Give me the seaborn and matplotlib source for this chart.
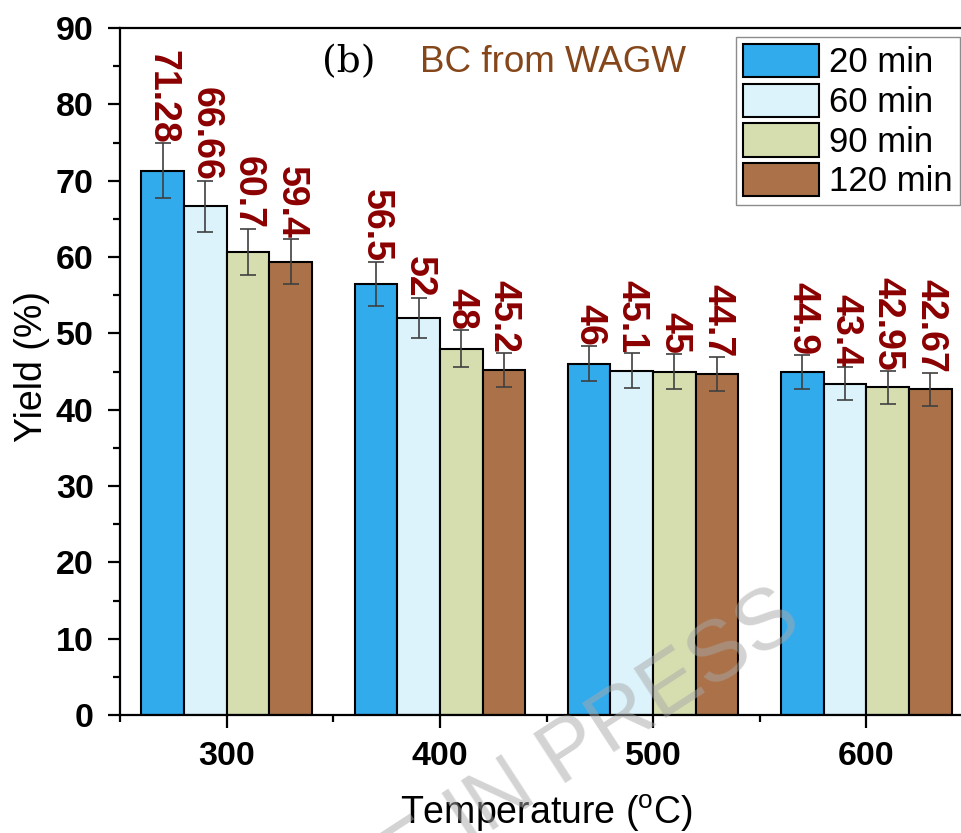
import numpy as np
import pandas as pd
import matplotlib
matplotlib.use("Agg")
import matplotlib.pyplot as plt
from matplotlib.ticker import MultipleLocator
import seaborn as sns

# Données
temperatures = [300, 400, 500, 600]
durees = ["20 min", "60 min", "90 min", "120 min"]
rendement_20 = [71.28, 56.5, 46, 44.9]
rendement_60 = [66.66, 52, 45.1, 43.4]
rendement_90 = [60.7, 48, 45, 42.95]
rendement_120 = [59.4, 45.2, 44.7, 42.67]
erreur_20 = [3.6, 2.9, 2.3, 2.25]
erreur_60 = [3.35, 2.65, 2.3, 2.15]
erreur_90 = [3.0, 2.4, 2.25, 2.15]
erreur_120 = [2.9, 2.25, 2.2, 2.15]
etiquettes = [["71.28", "56.5", "46", "44.9"],
              ["66.66", "52", "45.1", "43.4"],
              ["60.7", "48", "45", "42.95"],
              ["59.4", "45.2", "44.7", "42.67"]]

couleurs = ["#32abed", "#dcf3fc", "#d6deb0", "#ab724a"]

rendements = [rendement_20, rendement_60, rendement_90, rendement_120]
erreurs = [erreur_20, erreur_60, erreur_90, erreur_120]

df = pd.DataFrame({
    "Temperature": temperatures * 4,
    "Duree": [d for d in durees for _ in temperatures],
    "Rendement": [v for serie in rendements for v in serie],
})

sns.set_style("ticks")
plt.rcParams["font.family"] = ["Liberation Sans", "DejaVu Sans"]
plt.rcParams["mathtext.fontset"] = "custom"
plt.rcParams["mathtext.rm"] = "Liberation Sans"
for k in ["text.color", "axes.labelcolor", "xtick.color", "ytick.color"]:
    plt.rcParams[k] = "black"

fig = plt.figure(figsize=(9.61, 8.33), dpi=100)
ax = fig.add_axes([120 / 961, 1 - 715 / 833, 853 / 961, 687 / 833])

sns.barplot(data=df, x="Temperature", y="Rendement", hue="Duree",
            hue_order=durees, palette=couleurs, native_scale=True,
            width=0.8, gap=0, edgecolor="black", linewidth=1.5,
            saturation=1, errorbar=None, legend=False, ax=ax)

barres = list(ax.containers)

# Barres d'erreur et valeurs au-dessus des barres
for i, cont in enumerate(barres):
    for j, barre in enumerate(cont):
        xc = barre.get_x() + barre.get_width() / 2
        y = rendements[i][j]
        e = erreurs[i][j]
        ax.errorbar(xc, y, yerr=e, color="#404040", elinewidth=1.2,
                    capsize=6, capthick=1.2, zorder=4)
        ax.annotate(etiquettes[i][j], (xc, y + e), xytext=(0, 0),
                    textcoords="offset points", ha="center", va="bottom",
                    rotation=270, color="#8b0000", fontsize=27,
                    fontweight="bold")

ax.set_xlim(250, 650)
ax.set_ylim(0, 90)
ax.set_xticks(temperatures)
ax.set_xticks([250, 350, 450, 550], minor=True)
ax.yaxis.set_major_locator(MultipleLocator(10))
ax.yaxis.set_minor_locator(MultipleLocator(5))

for s in ["left", "bottom", "top", "right"]:
    ax.spines[s].set_linewidth(1.6)
    ax.spines[s].set_color("black")

ax.tick_params(which="major", direction="out", length=9, width=1.6,
               labelsize=24.5, pad=10)
ax.tick_params(which="minor", direction="out", length=5, width=1.6)
ax.tick_params(top=False, right=False, which="both")
for lab in ax.get_xticklabels() + ax.get_yticklabels():
    lab.set_fontweight("bold")

ax.set_xlabel("Temperature ($^{\\mathrm{o}}$C)", fontsize=27)
ax.set_ylabel("Yield (%)", fontsize=27)
ax.xaxis.set_label_coords(0.5, -0.113)
ax.yaxis.set_label_coords(-0.082, 0.508)

ax.text((322 - 120) / 853, (715 - 62) / 687, "(b)", family="DejaVu Serif",
        fontsize=27, va="center", ha="left", transform=ax.transAxes)
ax.text((420 - 120) / 853, (715 - 62) / 687, "BC from WAGW", fontsize=26.5,
        va="center", ha="left", color="#85461a", transform=ax.transAxes)

ax.legend(handles=barres, labels=durees, loc="upper right",
          bbox_to_anchor=(960 / 961, 1 - 37 / 833),
          bbox_transform=fig.transFigure, fontsize=25, frameon=True,
          fancybox=False, edgecolor="#8c8c8c", framealpha=1,
          handlelength=2.2, handleheight=1.1, labelspacing=0.12,
          handletextpad=0.3, borderpad=0.2, borderaxespad=0)

# Filigrane
fig.text(805, 833 - 628, "ARTICLE IN PRESS", transform=None, fontsize=62,
         color="#a8a8a8", alpha=0.5, rotation=33, rotation_mode="anchor",
         ha="right", va="baseline", zorder=10)

fig.savefig("out.png", dpi=100)
